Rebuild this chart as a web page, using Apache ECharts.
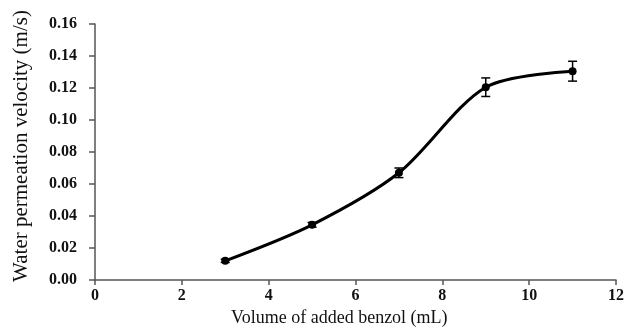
<!DOCTYPE html>
<html><head><meta charset="utf-8">
<script src="https://cdn.jsdelivr.net/npm/echarts@6/dist/echarts.min.js"></script>
<style>html,body{margin:0;padding:0;background:#fff}#c{width:627px;height:332px}</style>
</head><body><div id="c"></div>
<script>
var xValues = [3, 5, 7, 9, 11];
var yValues = [0.012, 0.0345, 0.067, 0.1205, 0.1305];
var yErrors = [0.001, 0.0015, 0.003, 0.0058, 0.0062];
var xTicks = [0, 2, 4, 6, 8, 10, 12];
var yTicks = [0.00, 0.02, 0.04, 0.06, 0.08, 0.10, 0.12, 0.14, 0.16];
var xTitle = 'Volume of added benzol (mL)';
var yTitle = 'Water permeation velocity (m/s)';

var chart = echarts.init(document.getElementById('c'));
var pts = xValues.map(function(x, i){ return [x, yValues[i]]; });
var errs = xValues.map(function(x, i){ return [x, yValues[i] - yErrors[i], yValues[i] + yErrors[i]]; });
var axisColor = '#555';
chart.setOption({
  animation: false,
  grid: {left: 95, right: 11, top: 24, bottom: 52},
  xAxis: {
    type: 'value', min: xTicks[0], max: xTicks[xTicks.length-1], interval: xTicks[1]-xTicks[0],
    axisLine: {show: true, lineStyle: {color: axisColor, width: 1.5}},
    axisTick: {show: true, length: 5, lineStyle: {color: axisColor, width: 1.5}},
    splitLine: {show: false},
    axisLabel: {color: '#111', fontFamily: 'Liberation Serif', fontWeight: 'bold', fontSize: 16, margin: 8}
  },
  yAxis: {
    type: 'value', min: yTicks[0], max: yTicks[yTicks.length-1], interval: 0.02,
    axisLine: {show: true, lineStyle: {color: axisColor, width: 1.5}},
    axisTick: {show: true, length: 6, lineStyle: {color: axisColor, width: 1.5}},
    splitLine: {show: false},
    axisLabel: {color: '#111', fontFamily: 'Liberation Serif', fontWeight: 'bold', fontSize: 16, margin: 18,
      formatter: function(v){ return v.toFixed(2); }}
  },
  graphic: [
    {type: 'text', left: 231, top: 309, style: {text: xTitle, fill: '#111', font: '18px "Liberation Serif"'}},
    {type: 'text', x: 21, y: 146, rotation: Math.PI/2,
     style: {text: yTitle, fill: '#111', font: '21px "Liberation Serif"', align: 'center', verticalAlign: 'middle'}}
  ],
  series: [{
    type: 'line', data: pts, smooth: 0.3,
    symbol: 'circle', symbolSize: 8,
    lineStyle: {color: '#000', width: 3},
    itemStyle: {color: '#000'}
  }, {
    type: 'custom', data: errs, z: 3,
    renderItem: function(params, api){
      var x = api.value(0);
      var lo = api.coord([x, api.value(1)]);
      var hi = api.coord([x, api.value(2)]);
      var w = 4.5;
      var st = {stroke: '#000', lineWidth: 1.5};
      return {type: 'group', children: [
        {type: 'line', shape: {x1: lo[0], y1: lo[1], x2: hi[0], y2: hi[1]}, style: st},
        {type: 'line', shape: {x1: lo[0]-w, y1: lo[1], x2: lo[0]+w, y2: lo[1]}, style: st},
        {type: 'line', shape: {x1: hi[0]-w, y1: hi[1], x2: hi[0]+w, y2: hi[1]}, style: st}
      ]};
    }
  }]
});
</script></body></html>
